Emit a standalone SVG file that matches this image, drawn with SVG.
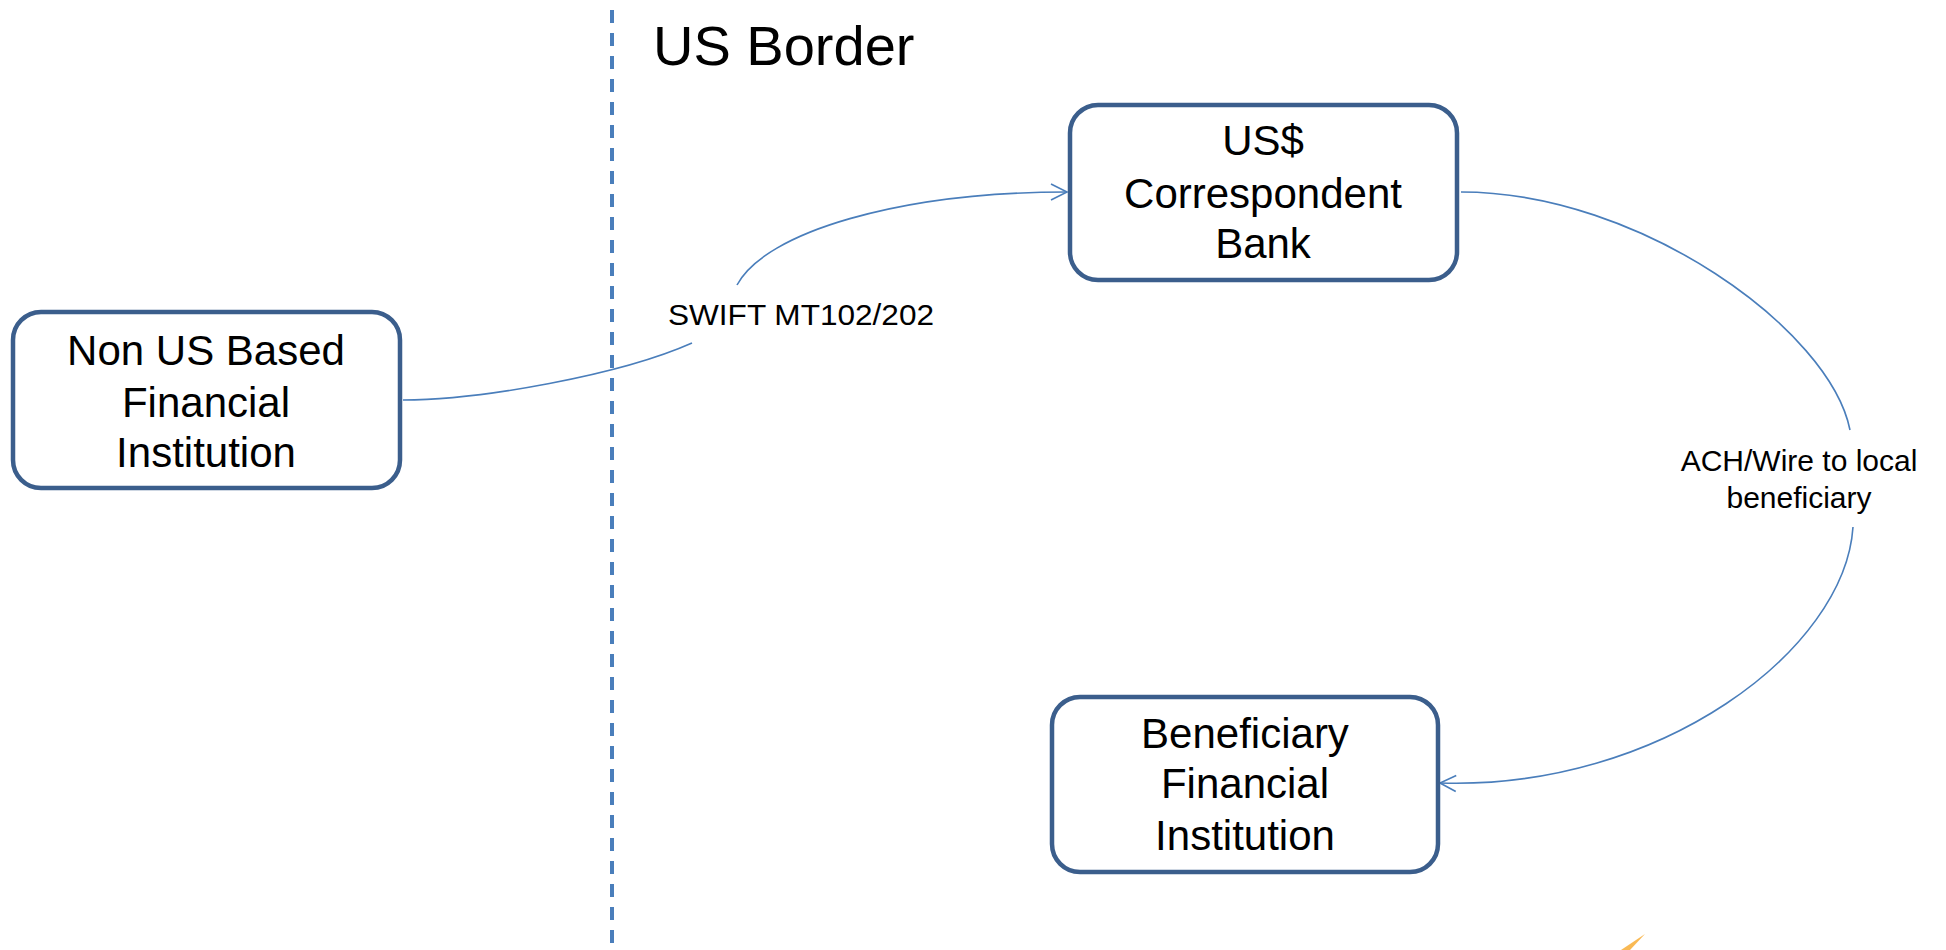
<svg xmlns="http://www.w3.org/2000/svg" width="1946" height="950" viewBox="0 0 1946 950">
<style>
.box{fill:#fff;stroke:#3B5E8C;stroke-width:4.5}
.t{font-family:"Liberation Sans",Arial,sans-serif;fill:#000;text-anchor:middle}
.big{font-size:42px}
.lbl{font-size:30px}
.conn{fill:none;stroke:#4A7EBB;stroke-width:1.6}
</style>
<defs>
<marker id="arr" viewBox="0 0 20 20" refX="18" refY="10" markerWidth="20" markerHeight="20" markerUnits="userSpaceOnUse" orient="auto">
<path d="M2,2 L18,10 L2,18" fill="none" stroke="#4A7EBB" stroke-width="1.6"/>
</marker>
</defs>
<rect width="1946" height="950" fill="#fff"/>
<g id="border">
<line x1="612" y1="10" x2="612" y2="950" stroke="#4A7EBB" stroke-width="4" stroke-dasharray="13 10"/>
<text class="t" x="653" y="65" font-size="56" style="text-anchor:start">US Border</text>
</g>
<g id="connectors">
<path class="conn" d="M403,400 C480,400 620,375 692,343"/>
<path class="conn" d="M737,285 C765,232 900,192 1067,192" marker-end="url(#arr)"/>
<path class="conn" d="M1461,192 C1640,192 1830,330 1850,430"/>
<path class="conn" d="M1853,527 C1845,650 1660,790 1440,783" marker-end="url(#arr)"/>
<text class="t lbl" x="801" y="325" textLength="266" lengthAdjust="spacingAndGlyphs">SWIFT MT102/202</text>
<text class="t lbl" x="1799" y="471">ACH/Wire to local</text>
<text class="t lbl" x="1799" y="508">beneficiary</text>
</g>
<g id="nonus">
<rect class="box" x="13" y="312" width="387" height="176" rx="28"/>
<text class="t big" x="206" y="365">Non US Based</text>
<text class="t big" x="206" y="417">Financial</text>
<text class="t big" x="206" y="467">Institution</text>
</g>
<g id="correspondent">
<rect class="box" x="1070" y="105" width="387" height="175" rx="28"/>
<text class="t big" x="1263" y="155">US$</text>
<text class="t big" x="1263" y="208">Correspondent</text>
<text class="t big" x="1263" y="258">Bank</text>
</g>
<g id="beneficiary">
<rect class="box" x="1052" y="697" width="386" height="175" rx="28"/>
<text class="t big" x="1245" y="748">Beneficiary</text>
<text class="t big" x="1245" y="798">Financial</text>
<text class="t big" x="1245" y="850">Institution</text>
</g>
<g id="mark">
<polygon points="1621,950 1645,934 1630,950" fill="#F7A21B" opacity="0.75"/>
</g>
</svg>
